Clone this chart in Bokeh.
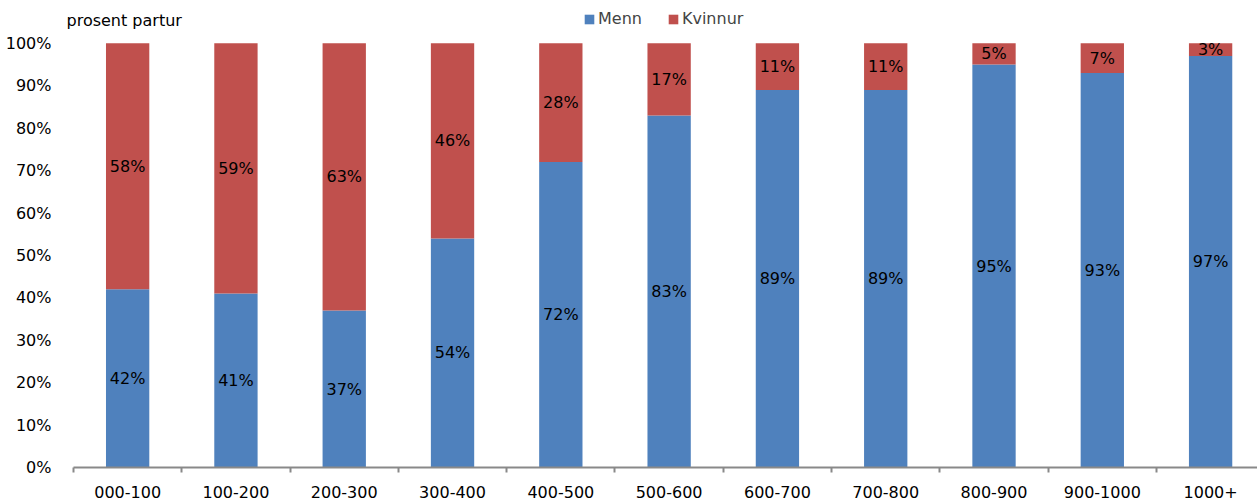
from bokeh.plotting import figure
from bokeh.models import (ColumnDataSource, Range1d, FixedTicker, NumeralTickFormatter,
                          Legend, LegendItem, Label)
from bokeh.core.properties import value
from bokeh.embed import file_html
from bokeh.resources import INLINE

categories = ["000-100", "100-200", "200-300", "300-400", "400-500", "500-600",
              "600-700", "700-800", "800-900", "900-1000", "1000+"]
menn = [42, 41, 37, 54, 72, 83, 89, 89, 95, 93, 97]
kvinnur = [58, 59, 63, 46, 28, 17, 11, 11, 5, 7, 3]

BLUE = "#4F81BD"
RED = "#C0504D"
FONT = "DejaVu Sans"
FS = "16px"
GREY = "#898989"

xs = list(range(len(categories)))
source = ColumnDataSource(dict(
    x=xs,
    menn=[m / 100 for m in menn],
    kvinnur=[k / 100 for k in kvinnur],
))

p = figure(width=1257, height=500, output_backend="svg", toolbar_location=None,
           x_range=Range1d(-0.62, 10.433), y_range=Range1d(0, 1.101),
           min_border_left=60, min_border_top=0, min_border_bottom=31, min_border_right=0)
p.outline_line_color = None
p.xgrid.visible = False
p.ygrid.visible = False
p.background_fill_color = "white"
p.border_fill_color = "white"

r = p.vbar_stack(["menn", "kvinnur"], x="x", width=0.4, color=[BLUE, RED],
                 line_color=None, source=source)

# labels inside segments
lab_src = ColumnDataSource(dict(
    x=xs + xs,
    y=[m / 200 for m in menn] + [(m + k / 2) / 100 for m, k in zip(menn, kvinnur)],
    t=[f"{m}%" for m in menn] + [f"{k}%" for k in kvinnur],
))
p.text(x="x", y="y", text="t", source=lab_src, text_align="center",
       text_baseline="middle", text_font=value(FONT), text_font_size=FS,
       text_color="black")

# x axis
xa = p.xaxis[0]
xa.bounds = (-0.5, 10.6)
xa.ticker = FixedTicker(ticks=xs, minor_ticks=[i - 0.5 for i in range(len(categories) + 1)])
xa.major_label_overrides = {i: c for i, c in enumerate(categories)}
xa.axis_line_color = GREY
xa.axis_line_width = 2
xa.major_tick_line_color = None
xa.minor_tick_line_color = GREY
xa.minor_tick_line_width = 2
xa.minor_tick_in = 0
xa.minor_tick_out = 5
xa.major_label_standoff = 12
xa.major_label_text_font = FONT
xa.major_label_text_font_size = FS
xa.major_label_text_color = "black"

# y axis
ya = p.yaxis[0]
ya.ticker = FixedTicker(ticks=[i / 10 for i in range(11)])
ya.formatter = NumeralTickFormatter(format="0%")
ya.axis_line_color = None
ya.major_tick_line_color = None
ya.minor_tick_line_color = None
ya.major_label_standoff = 3
ya.major_label_text_font = FONT
ya.major_label_text_font_size = FS
ya.major_label_text_color = "black"

legend = Legend(items=[LegendItem(label="Menn", renderers=[r[0]]),
                       LegendItem(label="Kvinnur", renderers=[r[1]])],
                orientation="horizontal", location=(523, 439),
                padding=0, margin=0, spacing=25, label_standoff=3,
                glyph_width=12, glyph_height=12, label_height=16,
                label_text_font=FONT, label_text_font_size=FS,
                border_line_color=None, background_fill_alpha=0)
p.add_layout(legend, "center")

p.add_layout(Label(x=6, y=447, x_units="screen", y_units="screen",
                   text="prosent partur", text_align="left", text_baseline="middle",
                   text_font=FONT, text_font_size=FS, text_color="black"))

open("out.html", "w").write(file_html(p, INLINE))
